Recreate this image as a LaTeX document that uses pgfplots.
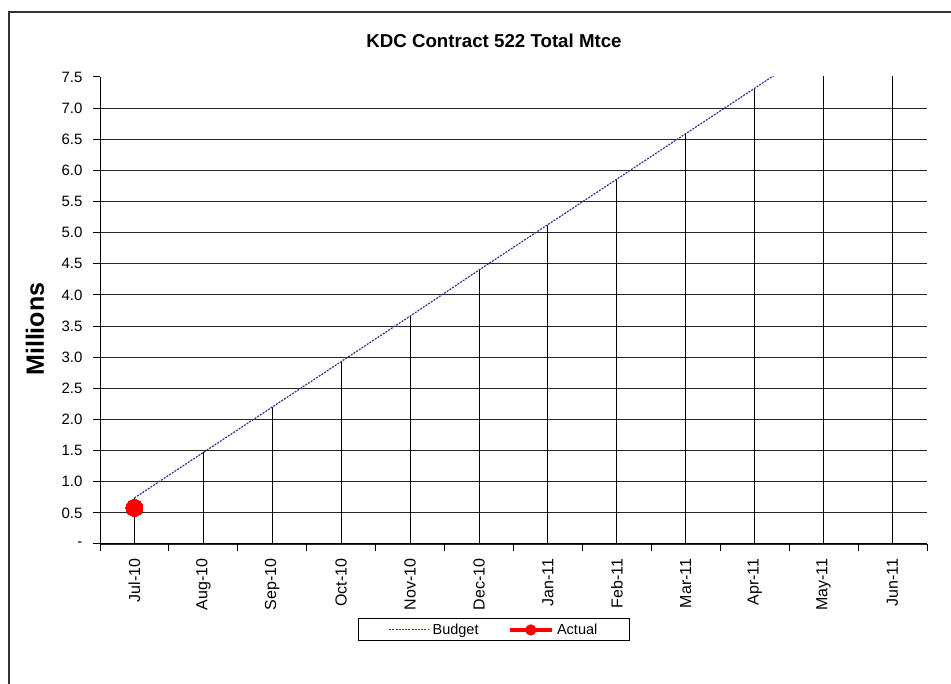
\documentclass[border=0pt]{standalone}
\usepackage{pgfplots}
\pgfplotsset{compat=1.18}
\usepackage{fontspec}
\setmainfont{Liberation Sans}
\definecolor{budget}{RGB}{50,50,150}
\pgfplotstableread{
x y
0 0.74
1 1.47
2 2.20
3 2.93
4 3.66
5 4.40
6 5.13
7 5.86
8 6.59
9 7.32
10 8.05
11 8.78
}\budgettable
\pgfplotstableread{
x y
0 0.58
}\actualtable
\begin{document}
\begin{tikzpicture}[x=1pt,y=1pt]
\path[use as bounding box] (0,0) rectangle (951,684);
\draw[line width=1.3pt, black!80] (9,0) -- (9,672) -- (951,672);
\node[font=\fontsize{18.7}{22}\selectfont\bfseries] at (494,643) {KDC Contract 522 Total Mtce};
\begin{axis}[
  at={(100pt,140pt)}, anchor=south west,
  scale only axis, width=827pt, height=467pt,
  xmin=-0.5, xmax=11.5, ymin=0, ymax=7.5,
  axis x line*=bottom, axis y line*=left,
  axis line style={line width=1pt, black, -},
  xtick={0,...,11},
  xticklabels={Jul-10,Aug-10,Sep-10,Oct-10,Nov-10,Dec-10,Jan-11,Feb-11,Mar-11,Apr-11,May-11,Jun-11},
  major x tick style={draw=none},
  minor xtick={-0.5,0.5,...,11.5},
  minor x tick style={line width=1pt, black},
  minor tick length=7pt,
  xticklabel style={rotate=90, anchor=east, font=\fontsize{16}{19}\selectfont, xshift=-4pt},
  ytick={0,0.5,...,7.0},
  yticklabels={-,0.5,1.0,1.5,2.0,2.5,3.0,3.5,4.0,4.5,5.0,5.5,6.0,6.5,7.0},
  extra y ticks={7.5},
  extra y tick labels={7.5},
  extra y tick style={grid=none},
  ymajorgrids,
  grid style={line width=1.1pt, black!85},
  major tick length=7pt,
  tick align=outside,
  y tick style={line width=1pt, black},
  yticklabel style={font=\fontsize{15}{18}\selectfont, xshift=-7pt},
  /pgf/number format/assume math mode=true,
  ylabel={Millions},
  ylabel style={at={(axis description cs:-0.0786,0.46)}, anchor=center, font=\fontsize{25}{29}\selectfont\bfseries},
  legend style={at={(axis description cs:0.4764,-0.184)}, anchor=center, draw=black, line width=1pt,
    font=\fontsize{14.5}{17}\selectfont, legend columns=2, column sep=1pt, inner xsep=30pt, inner ysep=3pt,
    nodes={inner xsep=2pt},
    /tikz/every even column/.append style={column sep=27pt}},
  legend cell align=left,
  clip=true,
]
\addplot[ycomb, black, line width=1pt, forget plot] table[x=x,y=y] {\budgettable};
\addplot[budget, line width=1.2pt, dash pattern=on 2pt off 1.2pt, no markers,
  legend image code/.code={\draw[budget, line width=1pt, dash pattern=on 2pt off 1.2pt] (0,0) -- (40pt,0);}] table[x=x,y=y] {\budgettable};
\addlegendentry{Budget}
\addplot[red, line width=4pt, only marks, mark=*, mark size=8.5pt, mark options={line width=0pt, fill=red},
  legend image code/.code={\draw[red, line width=4.5pt] (0,0) -- (42pt,0); \fill[red] (21pt,0) circle (3.5pt);}] table[x=x,y=y] {\actualtable};
\addlegendentry{Actual}
\end{axis}
\end{tikzpicture}
\end{document}
